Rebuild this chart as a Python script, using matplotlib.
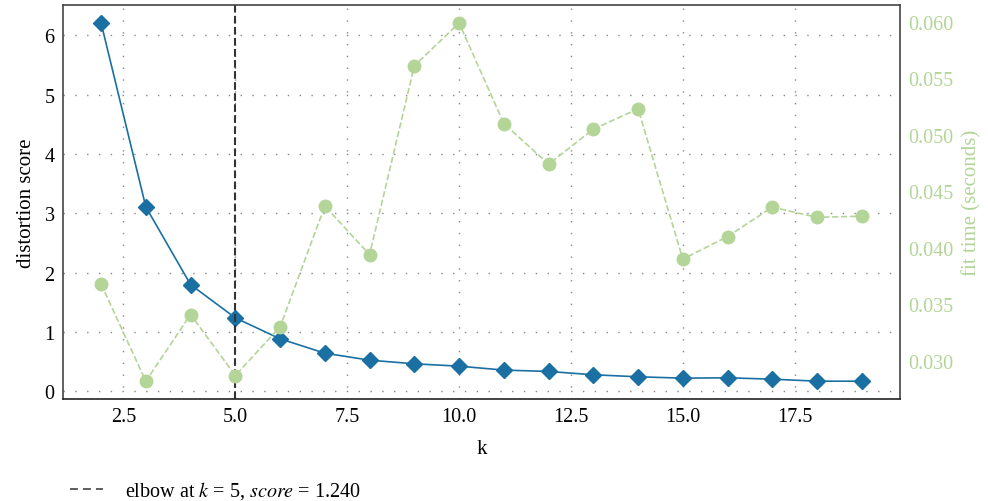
import matplotlib
matplotlib.use("Agg")
import matplotlib.pyplot as plt
from matplotlib.lines import Line2D

plt.rcParams['font.family'] = ['Liberation Serif', 'DejaVu Serif']
plt.rcParams['mathtext.fontset'] = 'stix'

k_values = [2, 3, 4, 5, 6, 7, 8, 9, 10, 11, 12, 13, 14, 15, 16, 17, 18, 19]
distortion = [6.21, 3.11, 1.80, 1.24, 0.887, 0.645, 0.527, 0.466, 0.426, 0.36,
              0.337, 0.281, 0.247, 0.224, 0.23, 0.207, 0.173, 0.173]
fit_time = [0.0368, 0.0282, 0.0341, 0.0287, 0.0330, 0.0437, 0.0394, 0.0561,
            0.0599, 0.0510, 0.0474, 0.0505, 0.0523, 0.0390, 0.0410, 0.0436,
            0.0427, 0.0428]
elbow_k = 5
elbow_score = 1.240

blue = '#1a70a3'
green = '#b3d598'
label_size = 15
tick_size = 14.5

fig = plt.figure(figsize=(9.88, 5.02), dpi=100)
ax = fig.add_axes([0.0638, 0.203, 0.847, 0.785])

ax.plot(k_values, distortion, color=blue, marker='D', markersize=8, linewidth=1.2)
ax.axvline(elbow_k, color='#333333', linestyle='--', linewidth=1.5)
ax.set_ylabel('distortion score', fontsize=label_size, labelpad=6)
ax.set_xlabel('k', fontsize=label_size, labelpad=9)
ax.grid(True, color='#888888', linestyle=(0, (1, 7.5)), linewidth=1.0)
ax.tick_params(length=0, labelsize=tick_size, pad=6)
for s in ax.spines.values():
    s.set_color('#444444')
    s.set_linewidth(1.2)
ax.spines['bottom'].set_color('#222222')

ax2 = ax.twinx()
ax2.plot(k_values, fit_time, color=green, marker='o', markersize=9,
         linestyle='--', linewidth=1.2)
ax2.set_ylabel('fit time (seconds)', color=green, fontsize=label_size, labelpad=6)
ax2.tick_params(length=0, labelsize=tick_size, labelcolor=green, pad=6)
ax2.grid(False)
for s in ax2.spines.values():
    s.set_visible(False)

handle = Line2D([], [], color='#333333', linewidth=1.1, linestyle=(0, (5.2, 3.3)))
fig.legend([handle], [f'elbow at $k$ = {elbow_k}, $score$ = {elbow_score:.3f}'],
           loc='lower left', bbox_to_anchor=(0.052, -0.037),
           frameon=False, fontsize=14.5, handlelength=1.65, handletextpad=1.1)

fig.savefig('out.png', dpi=100)
